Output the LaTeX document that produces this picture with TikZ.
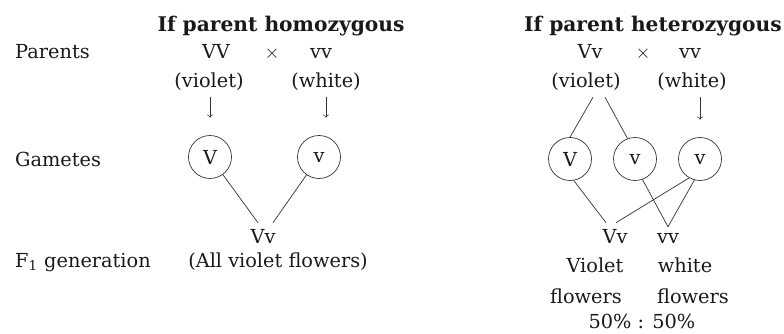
\documentclass[tikz,border=0pt]{standalone}
\usepackage{fontspec}
\setmainfont{DejaVu Serif}
\usetikzlibrary{positioning}
\begin{document}
\begin{tikzpicture}[x=0.02cm,y=-0.02cm,
  txt/.style={font=\fontsize{11}{13}\selectfont,text=black!90,anchor=base},
  ttl/.style={font=\fontsize{11.5}{13}\selectfont\bfseries,text=black!90,anchor=base},
  gam/.style={circle,draw=black!80,thin,minimum size=0.86cm,inner sep=0pt,font=\fontsize{11}{13}\selectfont,text=black!90},
  ln/.style={draw=black!80,thin},
  arr/.style={->,draw=black!80,thin,shorten >=0.35cm}]
\useasboundingbox (0,0) rectangle (784,334);
\node[txt,anchor=base west] (lpar) at (9,59) {Parents};
\node[txt,anchor=base west] (lgam) at (9,167) {Gametes};
\node[txt,anchor=base west] (lf1) at (9,267) {F\textsubscript{1} generation};

% homozygous parent
\node[ttl] (htitle) at (281,32) {If parent homozygous};
\node[txt] (hVV) at (216,59) {VV};
\node[txt] (hx) at (272,59) {$\times$};
\node[txt] (hvv) at (321,59) {vv};
\node[txt] (hvio) at (209,88) {(violet)};
\node[txt] (hwhi) at (326,88) {(white)};
\node[gam] (hV) at (210,157) {V};
\node[gam] (hv) at (319,157) {v};
\node[txt] (hVv) at (263,243) {Vv};
\node[txt] (hall) at (278,267) {(All violet flowers)};
\draw[arr] (hV.north |- hvio.south) -- (hV.north);
\draw[arr] (hwhi.south) -- (hwhi.south |- hv.north);
\draw[ln] (hV) -- ([xshift=-0.1cm]hVv.north);
\draw[ln] (hv) -- ([xshift=0.2cm]hVv.north);

% heterozygous parent
\node[ttl,anchor=base east] (rtitle) at (788,32) {If parent heterozygous};
\node[txt] (rpVv) at (590,59) {Vv};
\node[txt] (rx) at (643,59) {$\times$};
\node[txt] (rpvv) at (690,59) {vv};
\node[txt] (rvio) at (586,88) {(violet)};
\node[txt] (rwhi) at (692,88) {(white)};
\node[gam] (rV) at (570,159) {V};
\node[gam] (rv1) at (635,159) {v};
\node[gam] (rv2) at (700,159) {v};
\node[txt] (rVv) at (615,243) {Vv};
\node[txt] (rvv) at (668,243) {vv};
\node[txt] (rvio2) at (595,273) {Violet};
\node[txt] (rwhi2) at (685,273) {white};
\node[txt] (rflo1) at (586,303) {flowers};
\node[txt] (rflo2) at (693,303) {flowers};
\node[txt] (rratio) at (642,328) {50\% : 50\%};
\draw[ln] ([xshift=0.14cm]rvio.south) -- (rV.north);
\draw[ln] ([xshift=0.38cm]rvio.south) -- (rv1.110);
\draw[arr] (rv2.north |- rwhi.south) -- (rv2.north);
\draw[ln] (rV.-80) -- ([xshift=-0.18cm]rVv.north);
\draw[ln] (rv2.-120) -- ([xshift=0.02cm]rVv.north);
\draw[ln] (rv1.-70) -- (rvv.north);
\draw[ln] (rv2.-105) -- (rvv.north);

\end{tikzpicture}
\end{document}
